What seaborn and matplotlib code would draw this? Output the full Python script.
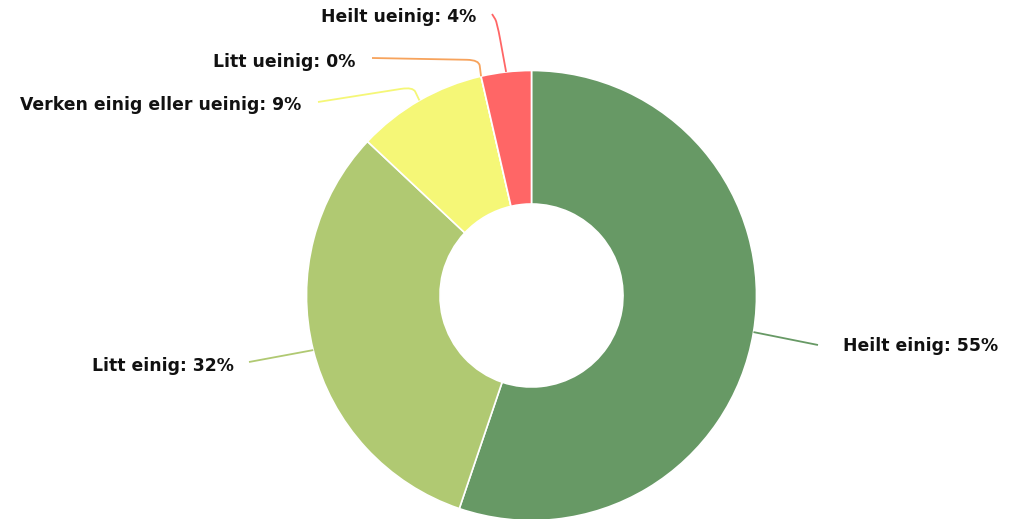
import numpy as np
import matplotlib
matplotlib.use("Agg")
import matplotlib.pyplot as plt
from matplotlib.path import Path
from matplotlib.patches import PathPatch
import seaborn as sns

# ---- data ----
categories = ["Heilt einig", "Litt einig", "Verken einig eller ueinig", "Litt ueinig", "Heilt ueinig"]
shares = [55.2, 31.8, 9.4, 0.0, 3.6]
shown_pct = [55, 32, 9, 0, 4]
colors = ["#679965", "#b0c972", "#f5f777", "#f7a35c", "#ff6666"]

# ---- layout (pixel coordinates, y measured from top) ----
W, H = 1019, 519
center_px = (531.5, 295.5)
outer_r = 225
inner_r = 91.5
# per label: bend point, line end, text anchor, alignment
bend_px = [None, None, (413, 87), (479, 60), (497, 22)]
end_px = [(818, 345), (249, 362), (318, 102), (372, 58), (492, 14)]
text_px = [(843, 346), (234, 366), (301, 105), (355, 62), (476, 17)]
align = ["left", "right", "right", "right", "right"]

sns.set_theme(style="white")
plt.rcParams["font.family"] = ["DejaVu Sans"]


def P(x, y):
    return (x, H - y)


fig = plt.figure(figsize=(W / 100, H / 100), dpi=100)
ax = fig.add_axes([0, 0, 1, 1])

c = P(*center_px)
wedges, _ = ax.pie(
    shares,
    colors=colors,
    startangle=90,
    counterclock=False,
    center=c,
    radius=outer_r,
    wedgeprops=dict(width=outer_r - inner_r, edgecolor="white", linewidth=1.2),
    frame=True,
)
ax.set_xlim(0, W)
ax.set_ylim(0, H)
ax.set_aspect("equal")
ax.axis("off")

for i, w in enumerate(wedges):
    mid = np.deg2rad((w.theta1 + w.theta2) / 2)
    anchor = (c[0] + outer_r * np.cos(mid), c[1] + outer_r * np.sin(mid))
    end = P(*end_px[i])
    if bend_px[i] is None:
        verts = [anchor, end]
        codes = [Path.MOVETO, Path.LINETO]
    else:
        b = np.array(P(*bend_px[i]))
        a = np.array(anchor)
        e = np.array(end)
        p1 = b + (a - b) * 0.35
        p2 = b + (e - b) * min(0.35, 12 / np.linalg.norm(e - b))
        verts = [tuple(a), tuple(p1), tuple(b), tuple(p2), tuple(e)]
        codes = [Path.MOVETO, Path.LINETO, Path.CURVE3, Path.CURVE3, Path.LINETO]
    ax.add_patch(PathPatch(Path(verts, codes), facecolor="none", edgecolor=colors[i], lw=1.3))
    tx, ty = P(*text_px[i])
    ax.text(tx, ty, f"{categories[i]}: {shown_pct[i]}%", ha=align[i], va="center",
            fontsize=12.4, fontweight="bold", color="#111111")

fig.savefig("out.png", dpi=100)
